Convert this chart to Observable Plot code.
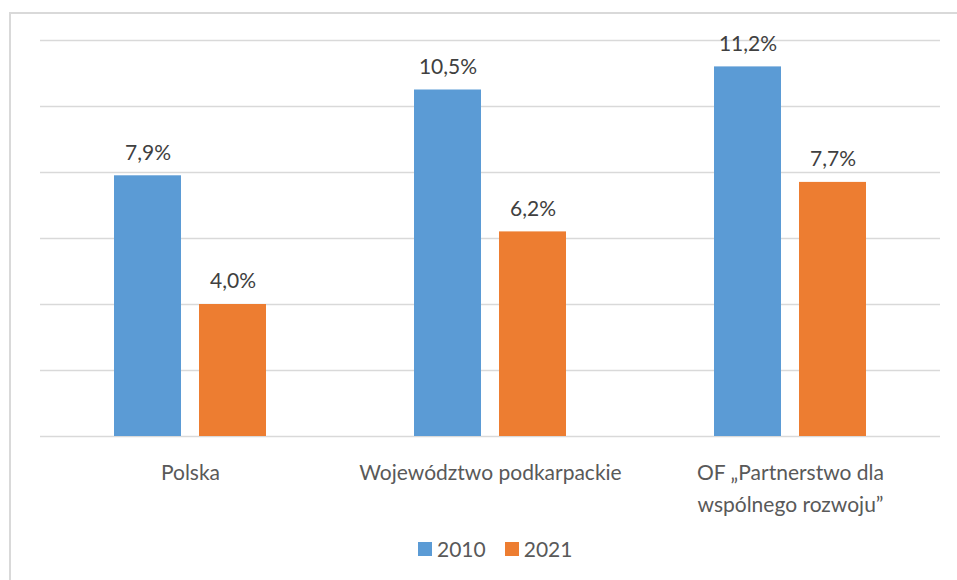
<!DOCTYPE html>
<html>
<head>
<meta charset="utf-8">
<script src="https://cdn.jsdelivr.net/npm/d3@7"></script>
<script src="https://cdn.jsdelivr.net/npm/@observablehq/plot@0.6"></script>
<style>
  html, body { margin: 0; padding: 0; background: #fff; }
  #wrap { position: relative; width: 957px; height: 580px; overflow: hidden; font-family: Lato, "Open Sans", sans-serif; }
  #frame { position: absolute; left: 9px; top: 12px; width: 1000px; height: 1000px; border-left: 2px solid #d9d9d9; border-top: 2px solid #d9d9d9; box-sizing: border-box; }
  #chart { position: absolute; left: 0; top: 0; }
  #legend { position: absolute; left: 418px; top: 536px; display: flex; align-items: center; font-size: 21px; color: #595959; }
  .sw { width: 14px; height: 14px; display: inline-block; }
  .lab { margin-left: 5px; }
</style>
</head>
<body>
<div id="wrap">
  <div id="frame"></div>
  <div id="chart"></div>
  <div id="legend"></div>
</div>
<script>
const categories = ["Polska", "Województwo podkarpackie", "OF „Partnerstwo dla wspólnego rozwoju”"];
const categoryLabels = ["Polska", "Województwo podkarpackie", "OF „Partnerstwo dla\nwspólnego rozwoju”"];
const years = ["2010", "2021"];
const values2010 = [7.9, 10.5, 11.2];
const values2021 = [4.0, 6.2, 7.7];
const yTicks = [0, 2, 4, 6, 8, 10, 12];
const colors = ["#5B9BD5", "#ED7D31"];

const data = categories.flatMap((c, i) => [
  {category: c, year: years[0], value: values2010[i]},
  {category: c, year: years[1], value: values2021[i]}
]);

const fmt = v => v.toFixed(1).replace(".", ",") + "%";

const chart = Plot.plot({
  width: 957,
  height: 520,
  marginTop: 40,
  marginLeft: 40,
  marginRight: 17,
  marginBottom: 84,
  style: {fontFamily: "Lato, 'Open Sans', sans-serif", background: "transparent", overflow: "visible"},
  fx: {domain: categories, padding: 0, label: null},
  x: {domain: years, paddingInner: 0.2118, paddingOuter: 0.8706, axis: null},
  y: {domain: [0, 12], axis: null},
  color: {domain: years, range: colors},
  marks: [
    Plot.ruleY(yTicks, {stroke: "#d9d9d9", strokeWidth: 1.5}),
    Plot.barY(data, {fx: "category", x: "year", y: "value", fill: "year"}),
    Plot.text(data, {fx: "category", x: "year", y: "value", text: d => fmt(d.value), dy: -23, fontSize: 21, fill: "#404040"}),
    Plot.axisFx({
      anchor: "bottom",
      label: null,
      tickSize: 0,
      tickPadding: 21,
      fontSize: 21,
      lineHeight: 1.52,
      fill: "#595959",
      tickFormat: c => categoryLabels[categories.indexOf(c)]
    })
  ]
});
document.getElementById("chart").appendChild(chart);

const legend = document.getElementById("legend");
years.forEach((y, i) => {
  const item = document.createElement("span");
  item.style.display = "inline-flex";
  item.style.alignItems = "center";
  if (i > 0) item.style.marginLeft = "19px";
  const sw = document.createElement("span");
  sw.className = "sw";
  sw.style.background = colors[i];
  const t = document.createElement("span");
  t.className = "lab";
  t.textContent = y;
  item.appendChild(sw);
  item.appendChild(t);
  legend.appendChild(item);
});
</script>
</body>
</html>
